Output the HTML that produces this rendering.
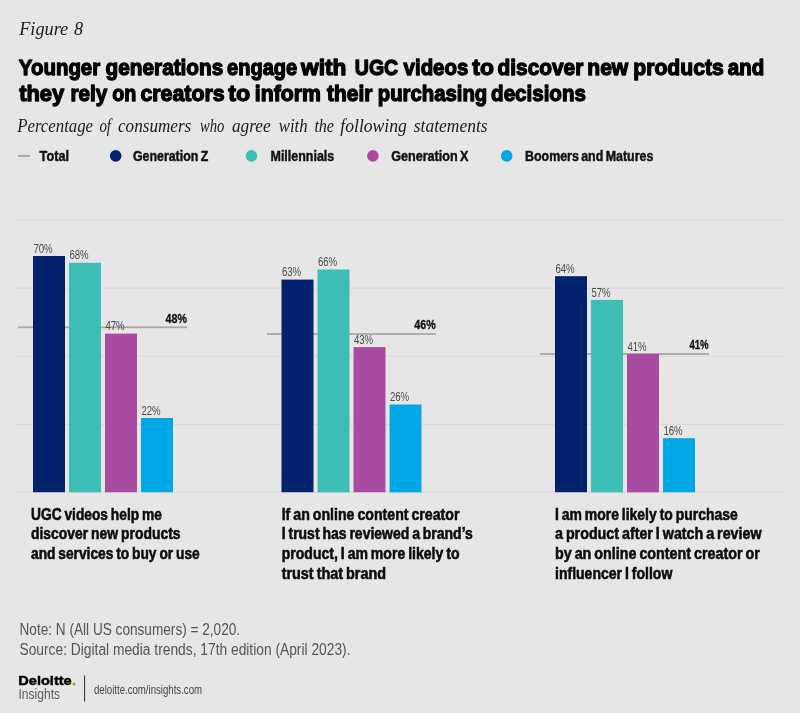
<!DOCTYPE html>
<html lang="en"><head><meta charset="utf-8"><title>Figure 8</title>
<style>html,body{margin:0;padding:0;background:#e6e6e6;}svg{display:block}</style></head>
<body>
<svg width="800" height="713" viewBox="0 0 800 713">
<rect width="800" height="713" fill="#e6e6e6"/>
<rect x="16" y="219.3" width="768" height="1" fill="#d6d6d6"/>
<rect x="16" y="287.6" width="768" height="1" fill="#d6d6d6"/>
<rect x="16" y="355.8" width="768" height="1" fill="#d6d6d6"/>
<rect x="16" y="423.8" width="768" height="1" fill="#d6d6d6"/>
<rect x="16" y="491.75" width="768" height="1" fill="#d6d6d6"/>
<rect x="18" y="326.4" width="169.3" height="1.8" fill="#a9a9a9"/>
<rect x="267" y="333.1" width="169.0" height="1.8" fill="#a9a9a9"/>
<rect x="540" y="353.1" width="169.0" height="1.8" fill="#a9a9a9"/>
<rect x="33" y="256.0" width="32" height="236.2" fill="#02226e"/>
<text x="33.4" y="252.7" font-family='"Liberation Sans", sans-serif' font-size="13.3" font-weight="normal" font-style="normal" fill="#4a4a4a" text-anchor="start" textLength="19.3" lengthAdjust="spacingAndGlyphs">70%</text>
<rect x="69" y="262.8" width="32" height="229.5" fill="#3cbdb5"/>
<text x="69.4" y="259.4" font-family='"Liberation Sans", sans-serif' font-size="13.3" font-weight="normal" font-style="normal" fill="#4a4a4a" text-anchor="start" textLength="19.3" lengthAdjust="spacingAndGlyphs">68%</text>
<rect x="105" y="333.6" width="32" height="158.6" fill="#a94ca1"/>
<text x="105.4" y="330.3" font-family='"Liberation Sans", sans-serif' font-size="13.3" font-weight="normal" font-style="normal" fill="#4a4a4a" text-anchor="start" textLength="19.3" lengthAdjust="spacingAndGlyphs">47%</text>
<rect x="141" y="418.0" width="32" height="74.2" fill="#02a8e6"/>
<text x="141.4" y="414.7" font-family='"Liberation Sans", sans-serif' font-size="13.3" font-weight="normal" font-style="normal" fill="#4a4a4a" text-anchor="start" textLength="19.3" lengthAdjust="spacingAndGlyphs">22%</text>
<text x="187.0" y="322.7" font-family='"Liberation Sans", sans-serif' font-size="12.7" font-weight="bold" font-style="normal" fill="#111" text-anchor="end" textLength="21.5" lengthAdjust="spacingAndGlyphs" stroke="#111" stroke-width="0.3">48%</text>
<rect x="281.5" y="279.6" width="32" height="212.6" fill="#02226e"/>
<text x="281.9" y="276.3" font-family='"Liberation Sans", sans-serif' font-size="13.3" font-weight="normal" font-style="normal" fill="#4a4a4a" text-anchor="start" textLength="19.3" lengthAdjust="spacingAndGlyphs">63%</text>
<rect x="317.5" y="269.5" width="32" height="222.8" fill="#3cbdb5"/>
<text x="317.9" y="266.2" font-family='"Liberation Sans", sans-serif' font-size="13.3" font-weight="normal" font-style="normal" fill="#4a4a4a" text-anchor="start" textLength="19.3" lengthAdjust="spacingAndGlyphs">66%</text>
<rect x="353.5" y="347.1" width="32" height="145.1" fill="#a94ca1"/>
<text x="353.9" y="343.8" font-family='"Liberation Sans", sans-serif' font-size="13.3" font-weight="normal" font-style="normal" fill="#4a4a4a" text-anchor="start" textLength="19.3" lengthAdjust="spacingAndGlyphs">43%</text>
<rect x="389.5" y="404.5" width="32" height="87.8" fill="#02a8e6"/>
<text x="389.9" y="401.2" font-family='"Liberation Sans", sans-serif' font-size="13.3" font-weight="normal" font-style="normal" fill="#4a4a4a" text-anchor="start" textLength="19.3" lengthAdjust="spacingAndGlyphs">26%</text>
<text x="435.7" y="329.4" font-family='"Liberation Sans", sans-serif' font-size="12.7" font-weight="bold" font-style="normal" fill="#111" text-anchor="end" textLength="21.5" lengthAdjust="spacingAndGlyphs" stroke="#111" stroke-width="0.3">46%</text>
<rect x="555" y="276.2" width="32" height="216.0" fill="#02226e"/>
<text x="555.4" y="272.9" font-family='"Liberation Sans", sans-serif' font-size="13.3" font-weight="normal" font-style="normal" fill="#4a4a4a" text-anchor="start" textLength="19.3" lengthAdjust="spacingAndGlyphs">64%</text>
<rect x="591" y="299.9" width="32" height="192.4" fill="#3cbdb5"/>
<text x="591.4" y="296.6" font-family='"Liberation Sans", sans-serif' font-size="13.3" font-weight="normal" font-style="normal" fill="#4a4a4a" text-anchor="start" textLength="19.3" lengthAdjust="spacingAndGlyphs">57%</text>
<rect x="627" y="353.9" width="32" height="138.4" fill="#a94ca1"/>
<text x="627.4" y="350.6" font-family='"Liberation Sans", sans-serif' font-size="13.3" font-weight="normal" font-style="normal" fill="#4a4a4a" text-anchor="start" textLength="19.3" lengthAdjust="spacingAndGlyphs">41%</text>
<rect x="663" y="438.2" width="32" height="54.0" fill="#02a8e6"/>
<text x="663.4" y="434.9" font-family='"Liberation Sans", sans-serif' font-size="13.3" font-weight="normal" font-style="normal" fill="#4a4a4a" text-anchor="start" textLength="19.3" lengthAdjust="spacingAndGlyphs">16%</text>
<text x="708.7" y="349.4" font-family='"Liberation Sans", sans-serif' font-size="12.7" font-weight="bold" font-style="normal" fill="#111" text-anchor="end" textLength="19.3" lengthAdjust="spacingAndGlyphs" stroke="#111" stroke-width="0.3">41%</text>
<text y="35" font-family='"Liberation Serif", serif' font-size="19" font-style="italic" fill="#1a1a1a"><tspan x="19.2" textLength="49" lengthAdjust="spacingAndGlyphs">Figure</tspan> <tspan x="74" textLength="9" lengthAdjust="spacingAndGlyphs">8</tspan></text>
<text y="74.8" font-family='"Liberation Sans", sans-serif' font-size="22.4" font-weight="bold" fill="#000" stroke="#000" stroke-width="1.3" stroke-linejoin="round"><tspan x="18.8" textLength="81.4" lengthAdjust="spacingAndGlyphs">Younger</tspan> <tspan x="105.6" textLength="117.7" lengthAdjust="spacingAndGlyphs">generations</tspan> <tspan x="227.1" textLength="70.0" lengthAdjust="spacingAndGlyphs">engage</tspan> <tspan x="301.1" textLength="45.4" lengthAdjust="spacingAndGlyphs">with</tspan> <tspan x="354.8" textLength="43.4" lengthAdjust="spacingAndGlyphs">UGC</tspan> <tspan x="403.6" textLength="64.7" lengthAdjust="spacingAndGlyphs">videos</tspan> <tspan x="472.3" textLength="21.6" lengthAdjust="spacingAndGlyphs">to</tspan> <tspan x="497.6" textLength="85.7" lengthAdjust="spacingAndGlyphs">discover</tspan> <tspan x="587.3" textLength="40.9" lengthAdjust="spacingAndGlyphs">new</tspan> <tspan x="633.3" textLength="90.4" lengthAdjust="spacingAndGlyphs">products</tspan> <tspan x="727.8" textLength="36.4" lengthAdjust="spacingAndGlyphs">and</tspan></text>
<text y="100.8" font-family='"Liberation Sans", sans-serif' font-size="22.4" font-weight="bold" fill="#000" stroke="#000" stroke-width="1.3" stroke-linejoin="round"><tspan x="19.2" textLength="45.0" lengthAdjust="spacingAndGlyphs">they</tspan> <tspan x="70.4" textLength="36.8" lengthAdjust="spacingAndGlyphs">rely</tspan> <tspan x="112.3" textLength="24.1" lengthAdjust="spacingAndGlyphs">on</tspan> <tspan x="140.4" textLength="84.2" lengthAdjust="spacingAndGlyphs">creators</tspan> <tspan x="228.3" textLength="21.9" lengthAdjust="spacingAndGlyphs">to</tspan> <tspan x="254.8" textLength="66.0" lengthAdjust="spacingAndGlyphs">inform</tspan> <tspan x="327.1" textLength="45.4" lengthAdjust="spacingAndGlyphs">their</tspan> <tspan x="377.8" textLength="109.4" lengthAdjust="spacingAndGlyphs">purchasing</tspan> <tspan x="491.1" textLength="94.8" lengthAdjust="spacingAndGlyphs">decisions</tspan></text>
<text y="132" font-family='"Liberation Serif", serif' font-size="19" font-style="italic" fill="#1a1a1a"><tspan x="17.2" textLength="75.9" lengthAdjust="spacingAndGlyphs">Percentage</tspan> <tspan x="99.4" textLength="11.6" lengthAdjust="spacingAndGlyphs">of</tspan> <tspan x="118" textLength="73.3" lengthAdjust="spacingAndGlyphs">consumers</tspan> <tspan x="200" textLength="24.4" lengthAdjust="spacingAndGlyphs">who</tspan> <tspan x="231.9" textLength="38.7" lengthAdjust="spacingAndGlyphs">agree</tspan> <tspan x="278.75" textLength="28.8" lengthAdjust="spacingAndGlyphs">with</tspan> <tspan x="314.4" textLength="19.6" lengthAdjust="spacingAndGlyphs">the</tspan> <tspan x="340.3" textLength="66.6" lengthAdjust="spacingAndGlyphs">following</tspan> <tspan x="413.75" textLength="73.8" lengthAdjust="spacingAndGlyphs">statements</tspan></text>
<rect x="18" y="154.9" width="12" height="2" fill="#a9a9a9"/>
<text x="39.6" y="161" font-family='"Liberation Sans", sans-serif' font-size="14.2" font-weight="bold" font-style="normal" fill="#111" text-anchor="start" textLength="29.4" lengthAdjust="spacingAndGlyphs" stroke="#111" stroke-width="0.45" word-spacing="-1.2">Total</text>
<circle cx="115.7" cy="155.9" r="5.8" fill="#02226e"/>
<text x="133" y="161" font-family='"Liberation Sans", sans-serif' font-size="14.2" font-weight="bold" font-style="normal" fill="#111" text-anchor="start" textLength="75.2" lengthAdjust="spacingAndGlyphs" stroke="#111" stroke-width="0.45" word-spacing="-1.2">Generation Z</text>
<circle cx="251.4" cy="155.9" r="5.8" fill="#3cbdb5"/>
<text x="270.5" y="161" font-family='"Liberation Sans", sans-serif' font-size="14.2" font-weight="bold" font-style="normal" fill="#111" text-anchor="start" textLength="63.7" lengthAdjust="spacingAndGlyphs" stroke="#111" stroke-width="0.45" word-spacing="-1.2">Millennials</text>
<circle cx="372.9" cy="155.9" r="5.8" fill="#a94ca1"/>
<text x="391.2" y="161" font-family='"Liberation Sans", sans-serif' font-size="14.2" font-weight="bold" font-style="normal" fill="#111" text-anchor="start" textLength="77.3" lengthAdjust="spacingAndGlyphs" stroke="#111" stroke-width="0.45" word-spacing="-1.2">Generation X</text>
<circle cx="506.7" cy="155.9" r="5.8" fill="#02a8e6"/>
<text x="525" y="161" font-family='"Liberation Sans", sans-serif' font-size="14.2" font-weight="bold" font-style="normal" fill="#111" text-anchor="start" textLength="128.3" lengthAdjust="spacingAndGlyphs" stroke="#111" stroke-width="0.45" word-spacing="-1.2">Boomers and Matures</text>
<text x="31" y="519.8" font-family='"Liberation Sans", sans-serif' font-size="15.8" font-weight="bold" font-style="normal" fill="#0c0c0c" text-anchor="start" textLength="130.9" lengthAdjust="spacingAndGlyphs" stroke="#0c0c0c" stroke-width="0.55" word-spacing="-1.1">UGC videos help me</text>
<text x="31" y="539.4" font-family='"Liberation Sans", sans-serif' font-size="15.8" font-weight="bold" font-style="normal" fill="#0c0c0c" text-anchor="start" textLength="149.5" lengthAdjust="spacingAndGlyphs" stroke="#0c0c0c" stroke-width="0.55" word-spacing="-1.1">discover new products</text>
<text x="31" y="559.1" font-family='"Liberation Sans", sans-serif' font-size="15.8" font-weight="bold" font-style="normal" fill="#0c0c0c" text-anchor="start" textLength="168.7" lengthAdjust="spacingAndGlyphs" stroke="#0c0c0c" stroke-width="0.55" word-spacing="-1.1">and services to buy or use</text>
<text x="281.7" y="519.8" font-family='"Liberation Sans", sans-serif' font-size="15.8" font-weight="bold" font-style="normal" fill="#0c0c0c" text-anchor="start" textLength="177.8" lengthAdjust="spacingAndGlyphs" stroke="#0c0c0c" stroke-width="0.55" word-spacing="-1.1">If an online content creator</text>
<text x="281.7" y="539.4" font-family='"Liberation Sans", sans-serif' font-size="15.8" font-weight="bold" font-style="normal" fill="#0c0c0c" text-anchor="start" textLength="191.1" lengthAdjust="spacingAndGlyphs" stroke="#0c0c0c" stroke-width="0.55" word-spacing="-1.1">I trust has reviewed a brand’s</text>
<text x="281.7" y="559.1" font-family='"Liberation Sans", sans-serif' font-size="15.8" font-weight="bold" font-style="normal" fill="#0c0c0c" text-anchor="start" textLength="177.8" lengthAdjust="spacingAndGlyphs" stroke="#0c0c0c" stroke-width="0.55" word-spacing="-1.1">product, I am more likely to</text>
<text x="281.7" y="578.8" font-family='"Liberation Sans", sans-serif' font-size="15.8" font-weight="bold" font-style="normal" fill="#0c0c0c" text-anchor="start" textLength="104.3" lengthAdjust="spacingAndGlyphs" stroke="#0c0c0c" stroke-width="0.55" word-spacing="-1.1">trust that brand</text>
<text x="555" y="519.8" font-family='"Liberation Sans", sans-serif' font-size="15.8" font-weight="bold" font-style="normal" fill="#0c0c0c" text-anchor="start" textLength="182.7" lengthAdjust="spacingAndGlyphs" stroke="#0c0c0c" stroke-width="0.55" word-spacing="-1.1">I am more likely to purchase</text>
<text x="555" y="539.4" font-family='"Liberation Sans", sans-serif' font-size="15.8" font-weight="bold" font-style="normal" fill="#0c0c0c" text-anchor="start" textLength="206.5" lengthAdjust="spacingAndGlyphs" stroke="#0c0c0c" stroke-width="0.55" word-spacing="-1.1">a product after I watch a review</text>
<text x="555" y="559.1" font-family='"Liberation Sans", sans-serif' font-size="15.8" font-weight="bold" font-style="normal" fill="#0c0c0c" text-anchor="start" textLength="204.8" lengthAdjust="spacingAndGlyphs" stroke="#0c0c0c" stroke-width="0.55" word-spacing="-1.1">by an online content creator or</text>
<text x="555" y="578.8" font-family='"Liberation Sans", sans-serif' font-size="15.8" font-weight="bold" font-style="normal" fill="#0c0c0c" text-anchor="start" textLength="117.3" lengthAdjust="spacingAndGlyphs" stroke="#0c0c0c" stroke-width="0.55" word-spacing="-1.1">influencer I follow</text>
<text x="19.5" y="634.5" font-family='"Liberation Sans", sans-serif' font-size="16" font-weight="normal" font-style="normal" fill="#555" text-anchor="start" textLength="220.6" lengthAdjust="spacingAndGlyphs">Note: N (All US consumers) = 2,020.</text>
<text x="19.5" y="654.5" font-family='"Liberation Sans", sans-serif' font-size="16" font-weight="normal" font-style="normal" fill="#555" text-anchor="start" textLength="331" lengthAdjust="spacingAndGlyphs">Source: Digital media trends, 17th edition (April 2023).</text>
<text x="18.3" y="685.3" font-family='"Liberation Sans", sans-serif' font-size="13.6" font-weight="bold" font-style="normal" fill="#000" text-anchor="start" textLength="53.4" lengthAdjust="spacingAndGlyphs" stroke="#000" stroke-width="0.5">Deloitte</text>
<circle cx="74" cy="684.1" r="1.6" fill="#86bc25"/>
<text x="18.5" y="698.7" font-family='"Liberation Sans", sans-serif' font-size="14.3" font-weight="normal" font-style="normal" fill="#5a5a5a" text-anchor="start" textLength="41.5" lengthAdjust="spacingAndGlyphs">Insights</text>
<rect x="84" y="675.5" width="1.1" height="26" fill="#3a3a3a"/>
<text x="94" y="693.7" font-family='"Liberation Sans", sans-serif' font-size="12" font-weight="normal" font-style="normal" fill="#444" text-anchor="start" textLength="108" lengthAdjust="spacingAndGlyphs">deloitte.com/insights.com</text>
</svg>
</body></html>
